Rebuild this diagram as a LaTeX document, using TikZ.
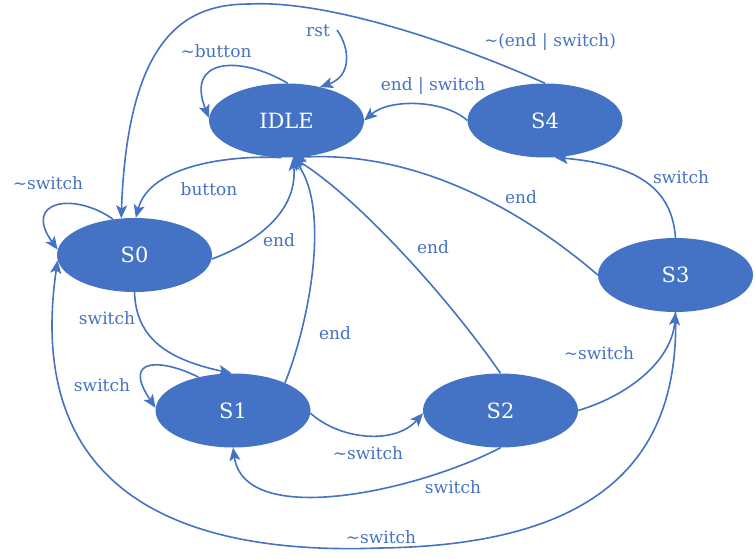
\documentclass[tikz,border=0pt]{standalone}
\usepackage{fontspec}
\setmainfont{DejaVu Serif}
\usetikzlibrary{shapes.geometric,arrows.meta}

\definecolor{stateblue}{HTML}{4472C4}

\tikzset{
  state/.style={ellipse, fill=stateblue, text=white, inner sep=0pt,
    minimum width=155pt, minimum height=74pt, font=\fontsize{21}{24}\selectfont},
  edge/.style={draw=stateblue, line width=1.6pt,
    -{Stealth[length=13pt,width=11pt,inset=3pt]}},
  lbl/.style={text=stateblue, font=\fontsize{17}{20}\selectfont, inner sep=0pt}
}

\begin{document}
\begin{tikzpicture}[x=1pt, y=-1pt]
\useasboundingbox (0,0) rectangle (755,559);

\node[state] (idle) at (286.5,120.5) {IDLE};
\node[state] (s4) at (545,120.5) {S4};
\node[state] (s0) at (134.5,255) {S0};
\node[state] (s3) at (675.5,275) {S3};
\node[state] (s1) at (233,410.5) {S1};
\node[state] (s2) at (500.5,410.5) {S2};

\coordinate (rst) at (337,30);

% reset and idle loop
\draw[edge] (rst) .. controls (350,48) and (352,76) .. (idle.45);
\node[lbl] (lrst) at (318,31) {rst};
\draw[edge] (idle.88) .. controls (240,55) and (185,58) .. (idle.178);
\node[lbl] (lnobutton) at (216,51) {\textasciitilde button};

% S4
\draw[edge] (s4.90) .. controls (460,45) and (330,0) .. (250,4)
  .. controls (190,4) and (128,30) .. (s0.110);
\node[lbl] (lnotend) at (550,42) {\textasciitilde(end | switch)};
\draw[edge] (s4.180) .. controls (445,100) and (390,98) .. (idle.0);
\node[lbl] (lendsw) at (433,86) {end | switch};

% S0
\draw[edge] (idle.262) .. controls (230,155) and (150,165) .. (s0.88);
\node[lbl] (lbutton) at (209,189) {button};
\draw[edge] (s0.357) .. controls (250,245) and (298,215) .. (idle.280);
\node[lbl] (lend0) at (279,240) {end};
\draw[edge] (s0.121) .. controls (75,192) and (22,200) .. (s0.176);
\node[lbl] (lnosw0) at (48,183) {\textasciitilde switch};
\draw[edge] (s0.270) .. controls (136,340) and (170,360) .. (s1.92);
\node[lbl] (lsw0) at (107,318) {switch};

% S1
\draw[edge] (s1.136) .. controls (165,360) and (120,355) .. (s1.178);
\node[lbl] (lsw1) at (102,385) {switch};
\draw[edge] (s1.28) .. controls (310,320) and (330,210) .. (idle.280);
\node[lbl] (lend1) at (335,333) {end};
\draw[edge] (s1.358) .. controls (340,440) and (395,445) .. (s2.182);
\node[lbl] (lnosw1) at (368,453) {\textasciitilde switch};

% S2
\draw[edge] (s2.90) .. controls (450,300) and (360,200) .. (idle.280);
\node[lbl] (lend2) at (433,247) {end};
\draw[edge] (s2.270) .. controls (420,490) and (245,530) .. (s1.270);
\node[lbl] (lsw2) at (453,487) {switch};
\draw[edge] (s2.0) .. controls (630,395) and (672,360) .. (s3.270);
\node[lbl] (lnosw2) at (599,353) {\textasciitilde switch};

% S3
\draw[edge] (s3.180) .. controls (540,225) and (430,150) .. (idle.280);
\node[lbl] (lend3) at (521,197) {end};
\draw[edge] (s3.90) .. controls (672,190) and (640,165) .. (s4.285);
\node[lbl] (lsw3) at (681,177) {switch};
\draw[edge] (s3.270) .. controls (680,450) and (610,545) .. (380,548)
  .. controls (200,555) and (22,505) .. (s0.184);
\node[lbl] (lnosw3) at (381,537) {\textasciitilde switch};
\end{tikzpicture}
\end{document}
